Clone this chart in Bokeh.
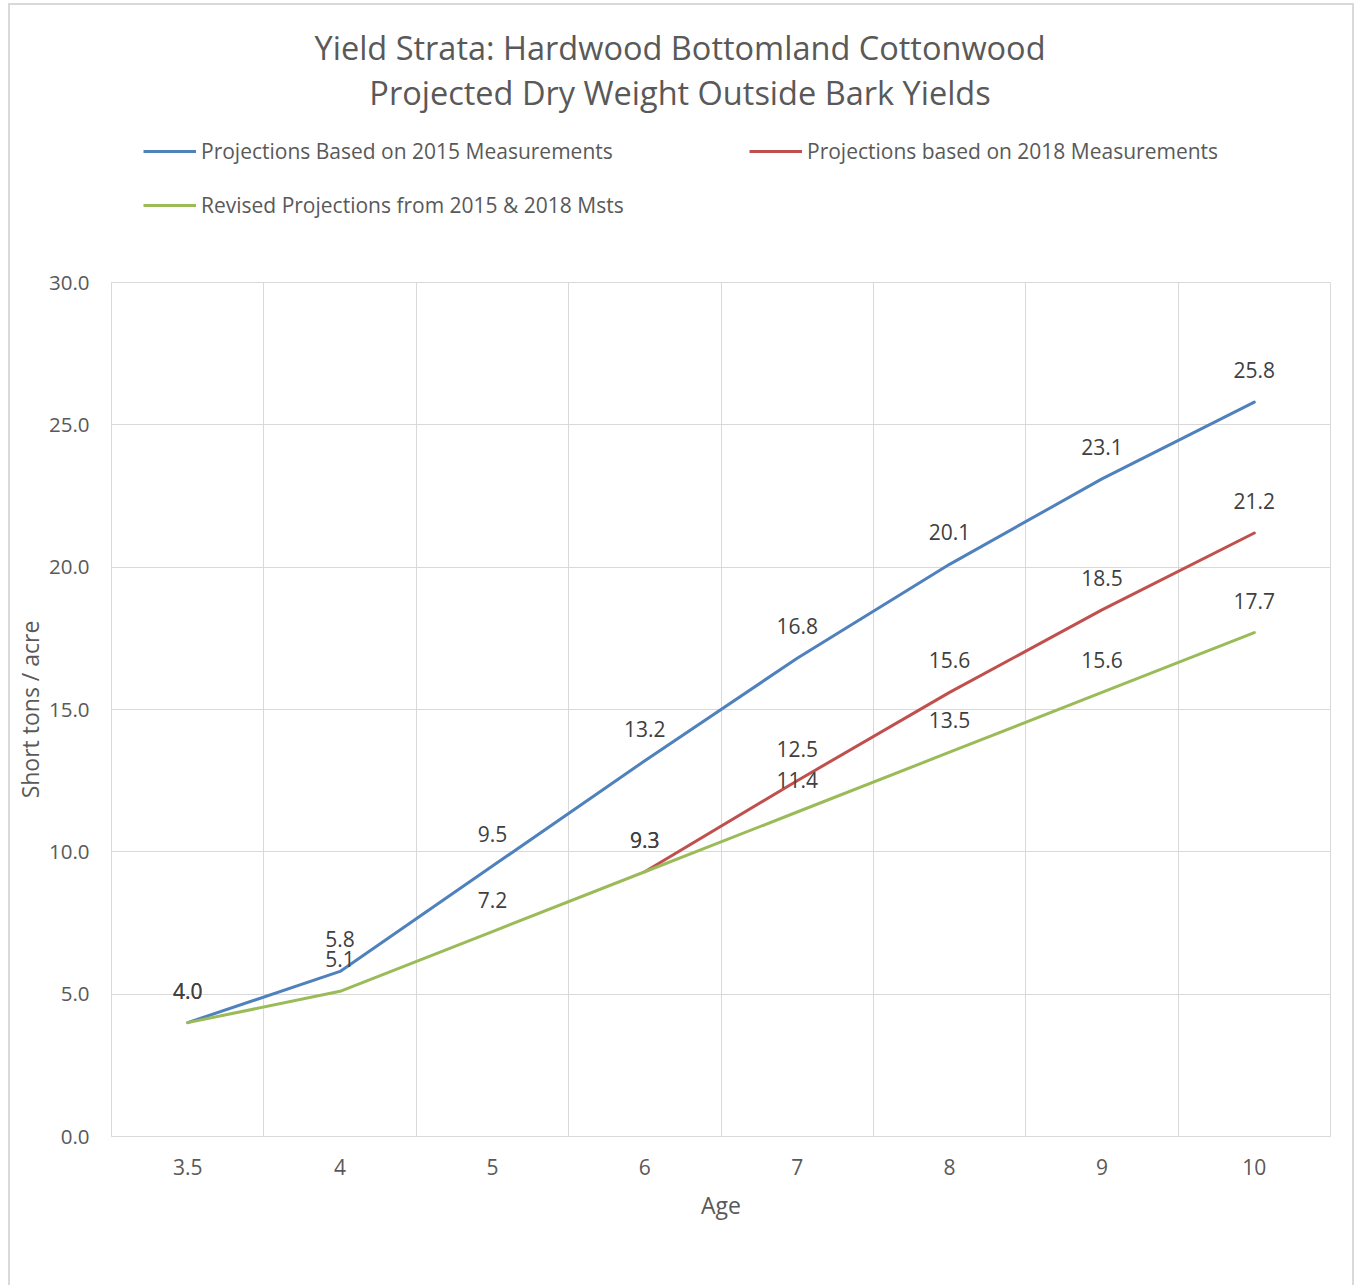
from bokeh.plotting import figure
from bokeh.layouts import column
from bokeh.models import (Range1d, FixedTicker, PrintfTickFormatter, ColumnDataSource,
                          Label, Legend, LegendItem)
from bokeh.embed import file_html
from bokeh.resources import INLINE
from bokeh.core.properties import value

# ---------------- data ----------------
ages = ["3.5", "4", "5", "6", "7", "8", "9", "10"]
proj_2015 = [4.0, 5.8, 9.5, 13.2, 16.8, 20.1, 23.1, 25.8]
proj_2018 = [None, None, None, 9.3, 12.5, 15.6, 18.5, 21.2]
revised = [4.0, 5.1, 7.2, 9.3, 11.4, 13.5, 15.6, 17.7]
y_ticks = [0, 5, 10, 15, 20, 25, 30]
series_names = ["Projections Based on 2015 Measurements",
                "Projections based on 2018 Measurements",
                "Revised Projections from 2015 & 2018 Msts"]
title_lines = ["Yield Strata: Hardwood Bottomland Cottonwood",
               "Projected Dry Weight Outside Bark Yields"]

# ---------------- style / page geometry ----------------
FONT = "Open Sans"
BLUE, RED, GREEN = "#4F81BD", "#C0504D", "#9BBB59"
COLORS = [BLUE, RED, GREEN]
GRID = "#d9d9d9"
TXT = "#595959"
LBL = "#404040"

OX, OY = 10, 5                # content origin on page (after margin + border)
PAGE_R = 1352                 # right edge of content on page
SPLIT = 258                   # page y where the plot figure starts
PLOT_B_PAGE = 1285            # page bottom
FL, FR, FT, FB = 110, 1330, 282, 1136  # frame edges in page px

CW = PAGE_R - OX              # content width
HH = SPLIT - OY               # header height
PH = PLOT_B_PAGE - SPLIT      # plot figure height

# ---------------- header (title + legend); its frame is aligned with the plot frame ----------------
head = figure(width=CW, height=HH, output_backend="svg", toolbar_location=None,
              x_range=Range1d(FL, FR), y_range=Range1d(SPLIT, OY),
              min_border_left=FL - OX, min_border_right=PAGE_R - FR,
              min_border_top=0, min_border_bottom=0,
              background_fill_color="white", border_fill_color="white")
head.axis.visible = False
head.grid.visible = False
head.outline_line_color = None

for line, cy in zip(title_lines, (47, 92)):
    head.add_layout(Label(x=679, y=cy, text=line, text_align="center", text_baseline="middle",
                          text_font=FONT, text_font_size="32.5px", text_color=TXT))

nan = float("nan")
dummies = [head.line(x=[nan, nan], y=[nan, nan], line_color=c, line_width=3) for c in COLORS]
leg_pos = [(142 - FL, SPLIT - 165), (748 - FL, SPLIT - 165), (142 - FL, SPLIT - 219)]
for r, name, pos in zip(dummies, series_names, leg_pos):
    head.add_layout(Legend(items=[LegendItem(label=name, renderers=[r])], location=pos,
                           orientation="horizontal", glyph_width=53, glyph_height=20,
                           label_height=20, label_standoff=5, padding=0, margin=0, spacing=0,
                           border_line_color=None, background_fill_alpha=0,
                           label_text_font=FONT, label_text_font_size="21px",
                           label_text_color=TXT))

# ---------------- main plot ----------------
xs = list(range(len(ages)))
p = figure(width=CW, height=PH, output_backend="svg", toolbar_location=None,
           x_range=Range1d(-0.5, len(ages) - 0.5), y_range=Range1d(y_ticks[0], y_ticks[-1]),
           min_border_left=FL - OX, min_border_right=PAGE_R - FR,
           min_border_top=FT - SPLIT, min_border_bottom=PLOT_B_PAGE - FB,
           background_fill_color="white", border_fill_color="white")
p.outline_line_color = GRID
p.outline_line_width = 1

p.xaxis.ticker = FixedTicker(ticks=xs)
p.xaxis.major_label_overrides = {i: a for i, a in zip(xs, ages)}
p.yaxis.ticker = FixedTicker(ticks=y_ticks)
p.yaxis.formatter = PrintfTickFormatter(format="%.1f")
for ax in (p.xaxis[0], p.yaxis[0]):
    ax.axis_line_color = GRID
    ax.major_tick_line_color = None
    ax.minor_tick_line_color = None
    ax.major_tick_out = 0
    ax.major_label_text_font = FONT
    ax.major_label_text_color = TXT
    ax.axis_label_text_font = FONT
    ax.axis_label_text_font_size = "23px"
    ax.axis_label_text_font_style = "normal"
    ax.axis_label_text_color = TXT
p.xaxis.major_label_text_font_size = "21px"
p.yaxis.major_label_text_font_size = "20.5px"
p.xaxis.major_label_standoff = 22
p.xaxis.axis_label = "Age"
p.xaxis.axis_label_standoff = 11
p.yaxis.major_label_standoff = 22
p.yaxis.axis_label = "Short tons / acre"
p.yaxis.axis_label_standoff = 0

p.xgrid.ticker = FixedTicker(ticks=[i - 0.5 for i in range(len(ages) + 1)])
p.ygrid.ticker = FixedTicker(ticks=y_ticks)
p.xgrid.grid_line_color = GRID
p.ygrid.grid_line_color = GRID


def src(vals):
    d = {"x": [], "y": [], "t": []}
    for x, v in zip(xs, vals):
        if v is not None:
            d["x"].append(x)
            d["y"].append(v)
            d["t"].append(f"{v:.1f}")
    return ColumnDataSource(d)


sources = [src(v) for v in (proj_2015, proj_2018, revised)]
for s, col in zip(sources, COLORS):
    p.line("x", "y", source=s, line_color=col, line_width=3, line_join="round", line_cap="round")
for s in sources:
    p.text("x", "y", text="t", source=s, text_align="center", text_baseline="middle",
           y_offset=-32, text_font=value(FONT), text_font_size="21px", text_color=LBL)

page = column(head, p, margin=(OY - 2, 0, 0, OX - 2),
              styles={"border-left": f"2px solid {GRID}", "border-top": f"2px solid {GRID}",
                      "border-right": f"2px solid {GRID}"})

open("out.html", "w").write(file_html(page, INLINE))
